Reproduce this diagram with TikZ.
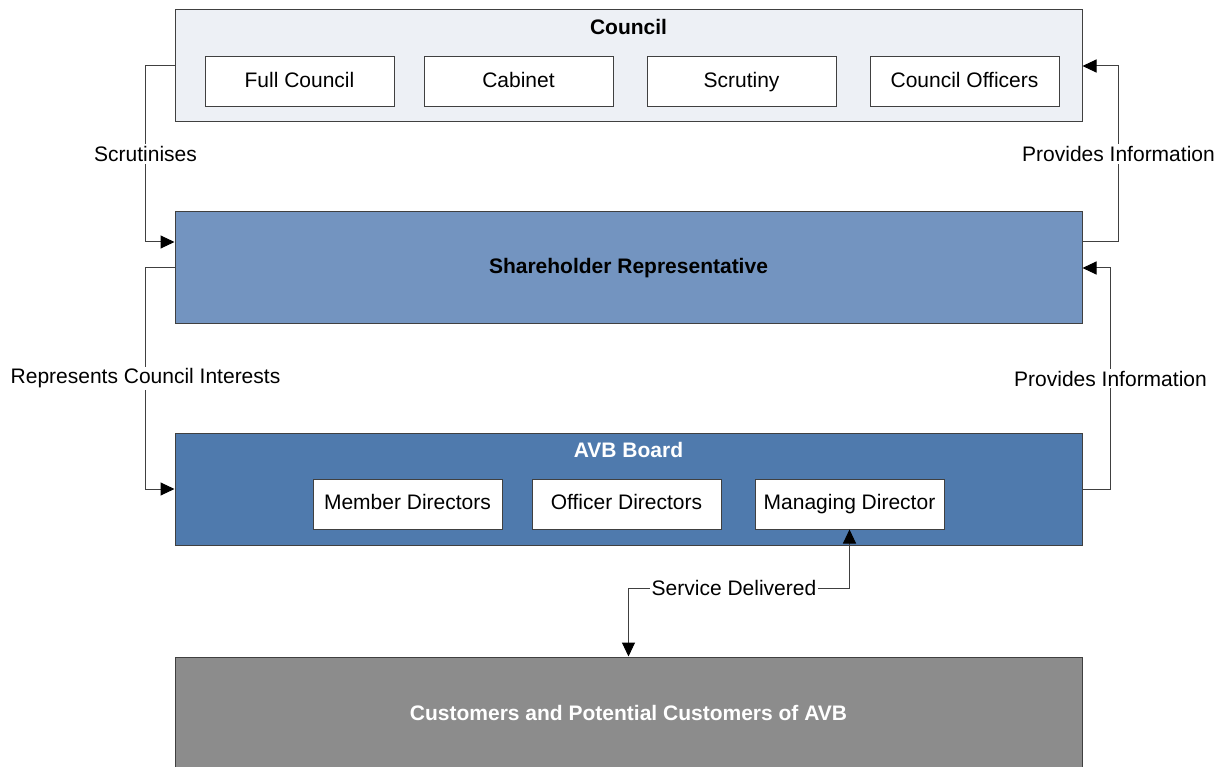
\documentclass[tikz,border=0pt]{standalone}
\usepackage{fontspec}
\setmainfont{Liberation Sans}
\usetikzlibrary{arrows.meta,calc}
\definecolor{councilfill}{HTML}{EDF0F5}
\definecolor{sharefill}{HTML}{7394C0}
\definecolor{avbfill}{HTML}{4F7AAD}
\definecolor{custfill}{HTML}{8C8C8C}
\definecolor{edgegray}{HTML}{404040}
\tikzset{
  bigbox/.style={draw=edgegray, line width=1pt, rectangle, minimum width=907pt, minimum height=112pt, inner sep=0pt},
  subbox/.style={draw=edgegray, line width=1pt, fill=white, rectangle, minimum width=189pt, minimum height=50pt, inner sep=0pt, text height=15pt, text depth=4pt},
  tip/.style={Triangle[length=14pt,width=13pt,black]},
  conn/.style={draw=edgegray, line width=1pt, -{Triangle[length=14pt,width=13pt,black]}},
  lbl/.style={fill=white, inner sep=2pt, text=black},
  every node/.style={font=\fontsize{21}{25}\selectfont}
}
\begin{document}
\begin{tikzpicture}[x=1pt,y=-1pt]
\useasboundingbox (0,0) rectangle (1224,767);
% main boxes
\node[bigbox, fill=councilfill] (council) at (628.5,66) {};
\node[font=\fontsize{21}{25}\selectfont\bfseries] (counciltitle) at (628.5,27) {Council};
\node[subbox] (full) at (299.5,82) {Full Council};
\node[subbox] (cabinet) at (518.5,82) {Cabinet};
\node[subbox] (scrutiny) at (741.5,82) {Scrutiny};
\node[subbox] (officers) at (964.5,82) {Council Officers};

\node[bigbox, fill=sharefill, font=\fontsize{21}{25}\selectfont\bfseries] (share) at (628.5,268) {Shareholder Representative};

\node[bigbox, fill=avbfill] (avb) at (628.5,489) {};
\node[font=\fontsize{21}{25}\selectfont\bfseries, text=white] (avbtitle) at (628.5,450) {AVB Board};
\node[subbox] (member) at (407.5,504) {Member Directors};
\node[subbox] (officerdir) at (626.5,504) {Officer Directors};
\node[subbox] (md) at (849.5,504) {Managing Director};

\node[bigbox, fill=custfill, minimum height=114pt] (cust) at (628.5,714) {};
\node[text=white, font=\fontsize{21}{25}\selectfont\bfseries] (custtext) at (628.5,713) {Customers and Potential Customers of AVB};

% connectors
\coordinate (shareUL) at ($(share.west)+(0,-26)$);
\coordinate (shareUR) at ($(share.east)+(0,-26)$);
\draw[conn] (council.west) -- ++(-29,0) |- (shareUL)
  node[pos=0.25, lbl] {Scrutinises};
\draw[conn] (shareUR) -- ++(36,0) |- (council.east)
  node[pos=0.25, lbl] {Provides Information};
\draw[conn] (share.west) -- ++(-29,0) |- (avb.west)
  node[pos=0.25, lbl] {Represents Council Interests};
\draw[conn] (avb.east) -- ++(28,0) |- (share.east)
  node[pos=0.25, lbl] {Provides Information};
\coordinate (svcmid) at (739,588);
\draw[draw=edgegray, line width=1pt, {Triangle[length=14pt,width=13pt,black]}-{Triangle[length=14pt,width=13pt,black]}]
  (md.south) |- (svcmid) -| (cust.north);
\node[lbl] (svclabel) at (734,588) {Service Delivered};
\end{tikzpicture}
\end{document}
